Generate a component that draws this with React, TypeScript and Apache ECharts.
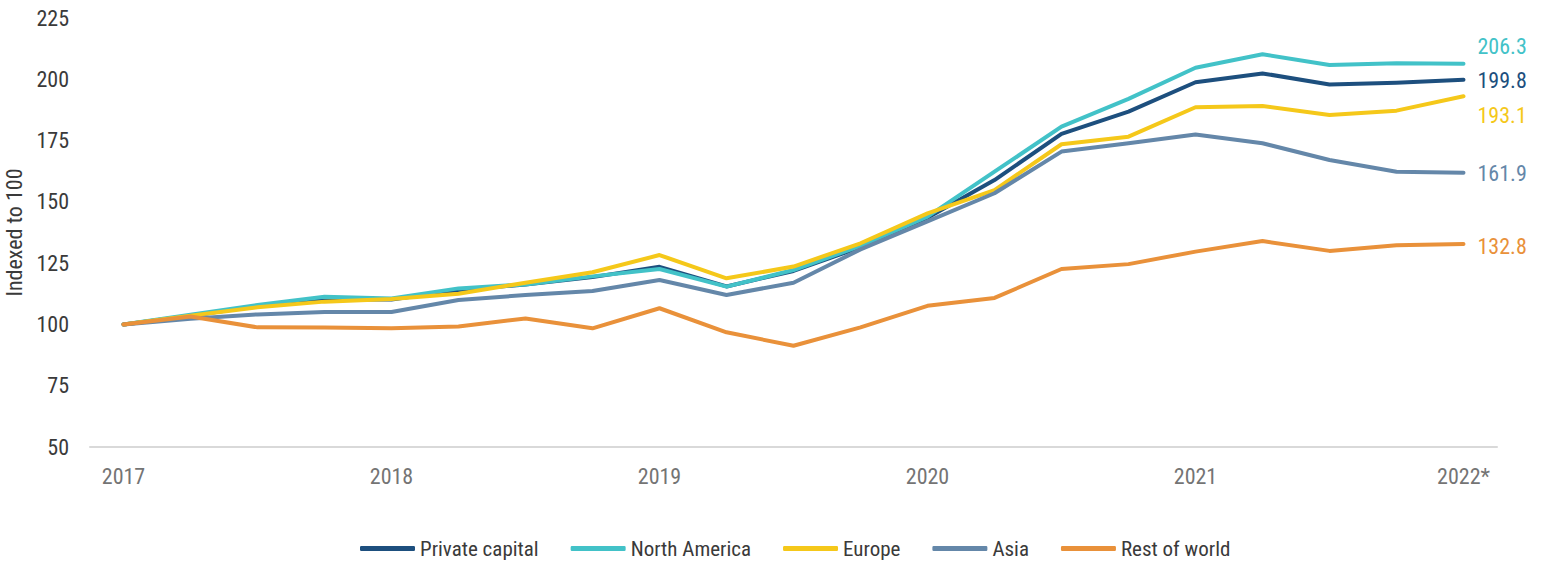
import React, { useEffect, useRef } from "react";
import * as echarts from "echarts";

const categories = [
  "2017", "Q2 2017", "Q3 2017", "Q4 2017",
  "2018", "Q2 2018", "Q3 2018", "Q4 2018",
  "2019", "Q2 2019", "Q3 2019", "Q4 2019",
  "2020", "Q2 2020", "Q3 2020", "Q4 2020",
  "2021", "Q2 2021", "Q3 2021", "Q4 2021",
  "2022*",
];

const privateCapital = [100, 103.5, 107.5, 110.3, 110.2, 114, 116.3, 119.3, 123.5, 115.5, 121.8, 131.5, 143.5, 158.9, 177.7, 186.8, 198.8, 202.4, 197.9, 198.6, 199.8];
const northAmerica = [100, 104, 107.9, 111.3, 110.6, 114.7, 116.3, 119.6, 122.6, 115.4, 122.2, 132, 144, 162.3, 180.7, 192, 204.7, 210.2, 205.8, 206.5, 206.3];
const europe = [100, 103.5, 107, 109.3, 110.4, 112.5, 117, 121.3, 128.3, 118.8, 123.6, 133.1, 145.3, 154.8, 173.5, 176.6, 188.6, 189.1, 185.4, 187.2, 193.1];
const asia = [100, 102.3, 104.1, 105.1, 105.1, 110, 112, 113.6, 118.1, 112, 117, 130.6, 142, 153.5, 170.5, 173.9, 177.5, 173.9, 167.1, 162.3, 161.9];
const restOfWorld = [100, 103.2, 98.8, 98.7, 98.4, 99.2, 102.4, 98.4, 106.6, 96.8, 91.3, 98.8, 107.6, 110.8, 122.6, 124.6, 129.7, 134, 130, 132.3, 132.8];

const seriesNames = ["Private capital", "North America", "Europe", "Asia", "Rest of world"];
const seriesData = [privateCapital, northAmerica, europe, asia, restOfWorld];
const seriesColors = ["#1d4f7e", "#42c2c8", "#f5c81a", "#6487a9", "#e9913a"];
const endLabelOffsets = [1, -17, 19, 1, 2];

const FONT = "'Liberation Sans Narrow', 'Arial Narrow', 'Roboto Condensed', 'Liberation Sans', sans-serif";

export default function App() {
  const ref = useRef<HTMLDivElement>(null);
  useEffect(() => {
    if (!ref.current) return;
    const chart = echarts.init(ref.current, undefined, { renderer: "svg" });
    chart.setOption({
      animation: false,
      textStyle: { fontFamily: FONT },
      grid: { left: 90, right: 49, top: 18, bottom: 115, containLabel: false, outerBoundsMode: "none" },
      legend: {
        data: seriesNames,
        left: 360,
        top: 538,
        padding: 0,
        icon: "roundRect",
        itemWidth: 55,
        itemHeight: 5,
        itemGap: 32,
        textStyle: { fontFamily: FONT, fontSize: 21, color: "#3a3a3a" },
      },
      xAxis: {
        type: "category",
        data: categories,
        boundaryGap: true,
        axisLine: { lineStyle: { color: "#d9d9d9", width: 2 } },
        axisTick: { show: false },
        axisLabel: {
          interval: 3,
          margin: 18,
          fontFamily: FONT,
          fontSize: 22,
          color: "#747474",
        },
        splitLine: { show: false },
      },
      yAxis: {
        type: "value",
        min: 50,
        max: 225,
        interval: 25,
        name: "Indexed to 100",
        nameLocation: "middle",
        nameGap: 53,
        nameTextStyle: { fontFamily: FONT, fontSize: 22, color: "#3a3a3a" },
        axisLine: { show: false },
        axisTick: { show: false },
        splitLine: { show: false },
        axisLabel: { margin: 21, fontFamily: FONT, fontSize: 22, color: "#3a3a3a" },
      },
      series: seriesNames.map((name, i) => ({
        name,
        type: "line",
        data: seriesData[i],
        symbol: "none",
        color: seriesColors[i],
        lineStyle: { width: 4, color: seriesColors[i], cap: "round", join: "round" },
        endLabel: {
          show: true,
          distance: 14,
          offset: [0, endLabelOffsets[i]],
          formatter: (p: any) => Number(p.value).toFixed(1),
          fontFamily: FONT,
          fontSize: 22,
          color: seriesColors[i],
        },
      })),
    });
    return () => chart.dispose();
  }, []);
  return (
    <div
      ref={ref}
      style={{ position: "fixed", left: 0, top: 0, width: 1546, height: 562, background: "#ffffff" }}
    />
  );
}
